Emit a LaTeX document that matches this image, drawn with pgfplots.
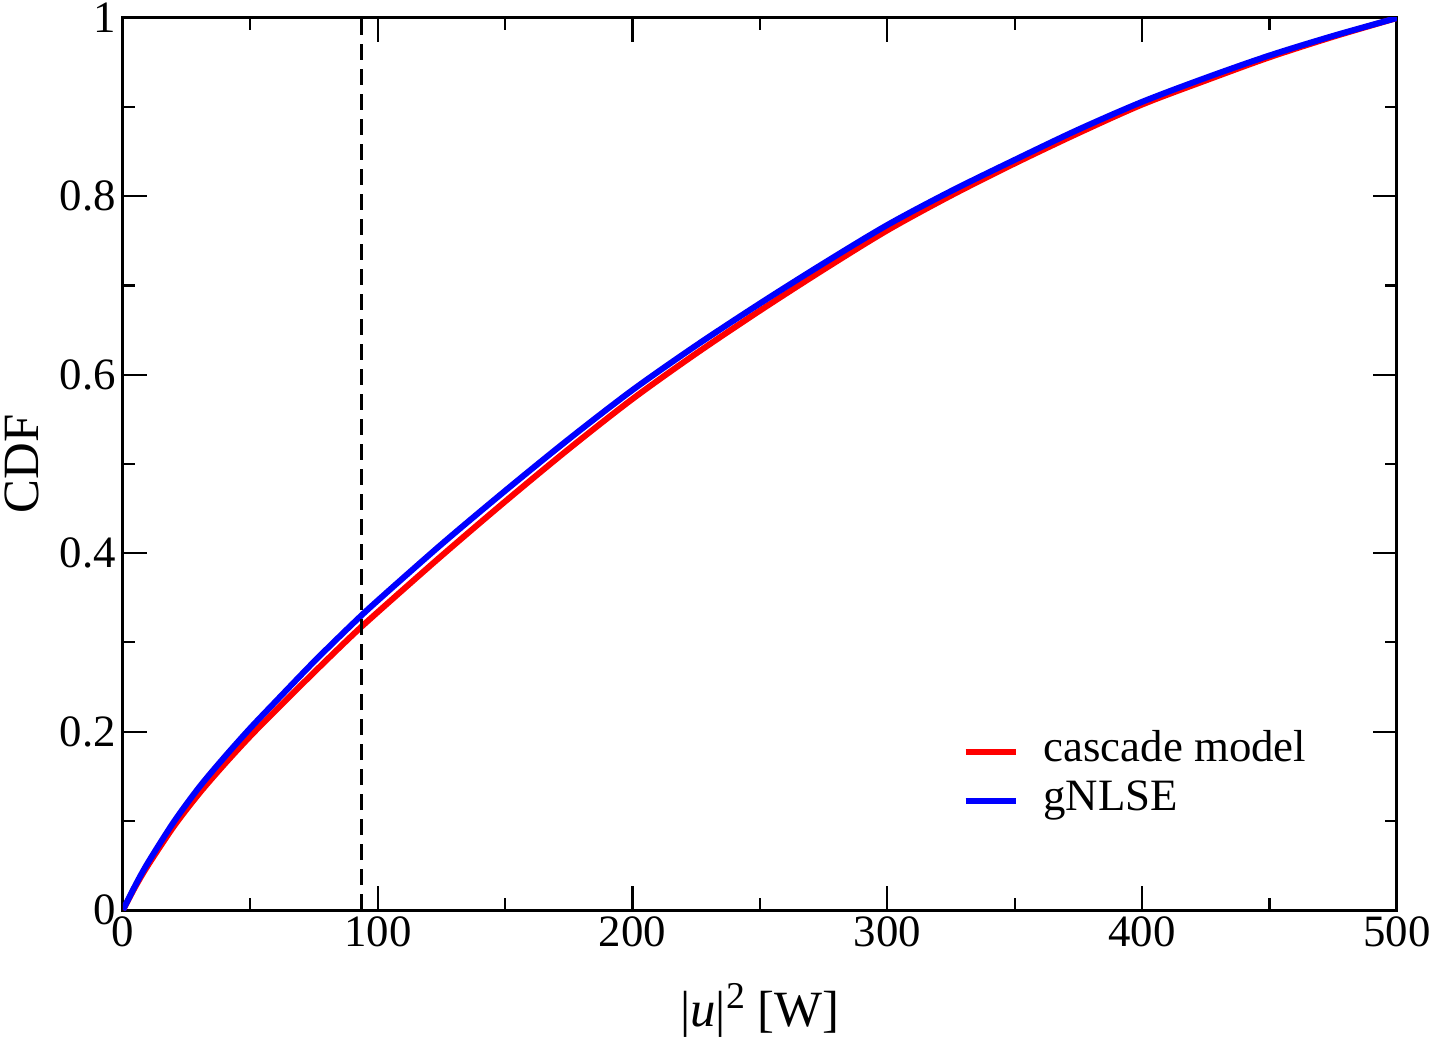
\documentclass[border=0pt]{standalone}
\usepackage{fontspec}
\setmainfont{Liberation Serif}
\usepackage{pgfplots}
\pgfplotsset{compat=1.18}
\begin{document}
\begin{tikzpicture}
\path[use as bounding box] (-61.5bp,-64bp) rectangle (656bp,455bp);
\begin{axis}[
  scale only axis,
  width=637bp, height=446bp,
  xmin=0, xmax=500, ymin=0, ymax=1,
  xtick={0,100,...,500}, ytick={0,0.2,...,1},
  minor x tick num=1, minor y tick num=1,
  tick align=inside,
  major tick length=12bp, minor tick length=6bp,
  tick style={line width=1.1bp, black},
  axis line style={line width=1.5bp},
  /pgf/number format/assume math mode=true,
  ticklabel style={font=\fontsize{22.5}{27}\selectfont},
  yticklabel style={/pgf/number format/fixed},
  label style={font=\fontsize{25.5}{30}\selectfont},
  xlabel={|\textit{u}|\raisebox{0.35em}{\fontsize{19}{22}\selectfont 2} [W]},
  ylabel={CDF},
  xlabel style={at={(axis description cs:0.5,-0.1308)}, anchor=base},
  ylabel style={at={(axis description cs:-0.0793,0.5)}, anchor=center, rotate=0},
  legend style={draw=none, fill=none, font=\fontsize{22.5}{27}\selectfont,
    at={(axis cs:327,0.205)}, anchor=north west,
    nodes={inner sep=0pt, text height=15bp, text depth=5bp},
    row sep=4.5bp, cells={anchor=west}},
  legend image code/.code={\draw[#1] (0bp,0bp) -- (25bp,0bp); \path (37.5bp,0bp);},
]
\addplot[red, line width=3bp, smooth] coordinates {
(0,0) (5,0.027) (10,0.051) (20,0.094) (30,0.131) (40,0.164)
(50,0.195) (60,0.224) (75,0.2665) (90,0.308) (100,0.334) (125,0.397)
(150,0.458) (175,0.517) (200,0.573) (225,0.624) (250,0.672) (275,0.718)
(300,0.762) (325,0.801) (350,0.837) (375,0.871) (400,0.903) (425,0.930)
(450,0.956) (475,0.979) (500,1.0)};
\addlegendentry{cascade model}
\addplot[blue, line width=3bp, smooth] coordinates {
(0,0) (5,0.0285) (10,0.054) (20,0.099) (30,0.138) (40,0.172)
(50,0.204) (60,0.234) (75,0.2785) (90,0.3205) (100,0.347) (125,0.410)
(150,0.470) (175,0.528) (200,0.583) (225,0.633) (250,0.680) (275,0.725)
(300,0.768) (325,0.806) (350,0.841) (375,0.875) (400,0.906) (425,0.933)
(450,0.958) (475,0.980) (500,1.0)};
\addlegendentry{gNLSE}
\addplot[black, line width=1.5bp, dash pattern=on 8bp off 4.5bp, forget plot] coordinates {(93.5,0) (93.5,1)};
\end{axis}
\end{tikzpicture}
\end{document}
